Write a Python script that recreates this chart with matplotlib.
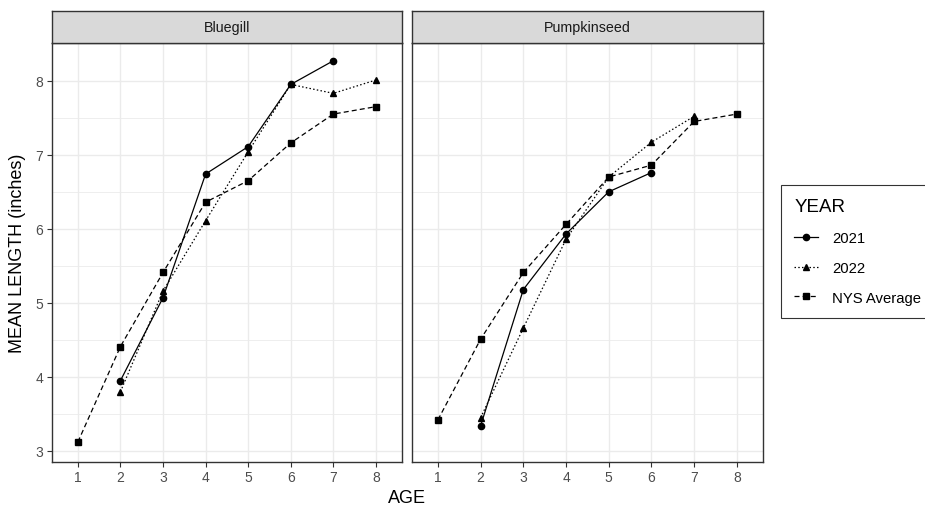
import numpy as np
import matplotlib.pyplot as plt
from matplotlib.lines import Line2D

plt.rcParams['font.family'] = ['Liberation Sans', 'DejaVu Sans']

# Data
species = ['Bluegill', 'Pumpkinseed']

bg_2021_age = [2, 3, 4, 5, 6, 7]
bg_2021_len = [3.95, 5.07, 6.74, 7.11, 7.95, 8.27]
bg_2022_age = [2, 3, 4, 5, 6, 7, 8]
bg_2022_len = [3.80, 5.16, 6.11, 7.04, 7.95, 7.83, 8.01]
bg_nys_age = [1, 2, 3, 4, 5, 6, 7, 8]
bg_nys_len = [3.12, 4.41, 5.41, 6.36, 6.65, 7.16, 7.55, 7.65]

ps_2021_age = [2, 3, 4, 5, 6]
ps_2021_len = [3.34, 5.18, 5.93, 6.50, 6.76]
ps_2022_age = [2, 3, 4, 5, 6, 7]
ps_2022_len = [3.45, 4.66, 5.86, 6.70, 7.17, 7.52]
ps_nys_age = [1, 2, 3, 4, 5, 6, 7, 8]
ps_nys_len = [3.42, 4.51, 5.41, 6.06, 6.70, 6.86, 7.45, 7.55]

years = ['2021', '2022', 'NYS Average']
styles = {'2021': ('-', 'o'), '2022': ((0, (1.2, 1.8)), '^'), 'NYS Average': ((0, (4, 2.5)), 's')}

panels = {
    'Bluegill': [(bg_2021_age, bg_2021_len), (bg_2022_age, bg_2022_len), (bg_nys_age, bg_nys_len)],
    'Pumpkinseed': [(ps_2021_age, ps_2021_len), (ps_2022_age, ps_2022_len), (ps_nys_age, ps_nys_len)],
}

W, H = 925, 510
fig = plt.figure(figsize=(W / 100, H / 100), dpi=100)

bottom = 1 - 463 / H
height = (463 - 44) / H
lefts = [51.7, 411.7]
widths = [350.6, 351.6]

for i, sp in enumerate(species):
    ax = fig.add_axes([lefts[i] / W, bottom, widths[i] / W, height])
    for yr, (ages, lens) in zip(years, panels[sp]):
        ls, mk = styles[yr]
        ax.plot(ages, lens, color='black', linestyle=ls, linewidth=0.9,
                marker=mk, markersize=4.5, zorder=3)
    ax.set_xlim(0.385, 8.62)
    ax.set_ylim(2.85, 8.51)
    ax.set_xticks(range(1, 9))
    ax.set_yticks([3, 4, 5, 6, 7, 8])
    ax.set_yticks(np.arange(3.5, 8.5, 1), minor=True)
    ax.grid(True, which='major', color='#EBEBEB', linewidth=1.0)
    ax.grid(True, which='minor', axis='y', color='#EBEBEB', linewidth=0.6)
    ax.set_axisbelow(True)
    for s in ax.spines.values():
        s.set_color('#333333')
        s.set_linewidth(1.0)
    ax.tick_params(which='major', length=3.5, color='#333333', labelsize=10,
                   labelcolor='#4D4D4D', pad=2.5)
    ax.tick_params(which='minor', length=0)
    if i == 1:
        ax.tick_params(axis='y', labelleft=False, length=0)

    # facet strip
    sax = fig.add_axes([lefts[i] / W, 1 - 44 / H, widths[i] / W, 32 / H])
    sax.set_facecolor('#D9D9D9')
    sax.set_xticks([])
    sax.set_yticks([])
    for s in sax.spines.values():
        s.set_color('#333333')
        s.set_linewidth(1.0)
    sax.text(0.5, 0.5, sp, ha='center', va='center', fontsize=10.3, color='#1A1A1A',
             transform=sax.transAxes)

fig.text(407 / W, 1 - 499 / H, 'AGE', ha='center', va='center', fontsize=13)
fig.text(18 / W, 1 - 253 / H, 'MEAN LENGTH (inches)', ha='center', va='center',
         rotation=90, fontsize=13)

handles = []
for yr in years:
    ls, mk = styles[yr]
    handles.append(Line2D([], [], color='black', linestyle=ls, linewidth=0.9,
                          marker=mk, markersize=4.5))
leg = fig.legend(handles, years, title='YEAR', loc='upper left',
                 bbox_to_anchor=(781 / W, 1 - 186 / H), frameon=True,
                 fancybox=False, edgecolor='black', fontsize=10.7,
                 title_fontsize=13.5, handlelength=1.6, handleheight=0.9,
                 labelspacing=1.05, borderpad=0.9, borderaxespad=0,
                 handletextpad=0.95, alignment='left')
leg.get_frame().set_linewidth(0.8)

fig.savefig('out.png', dpi=100, facecolor='white')
